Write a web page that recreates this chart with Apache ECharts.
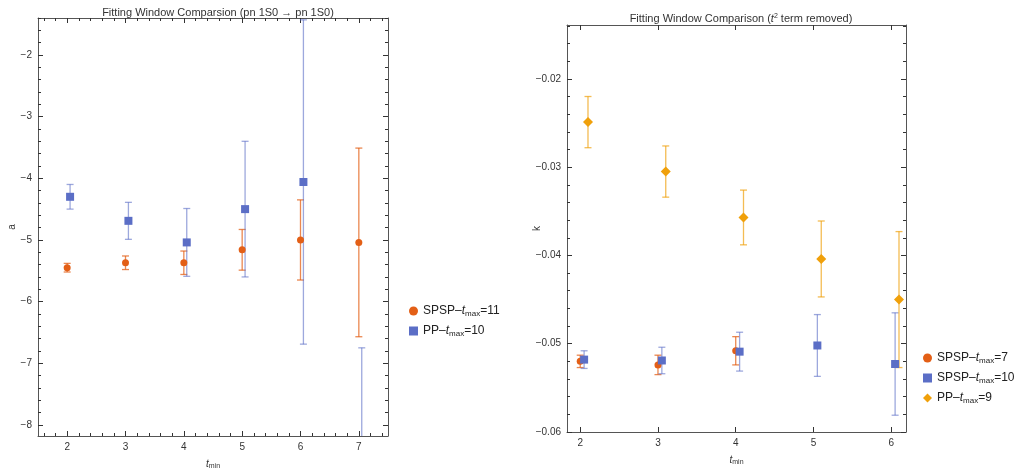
<!DOCTYPE html>
<html>
<head>
<meta charset="utf-8">
<script src="https://cdn.jsdelivr.net/npm/echarts@6/dist/echarts.min.js"></script>
<style>
  html, body { margin: 0; padding: 0; background: #fff; }
  #chart { width: 1024px; height: 473px; }
</style>
</head>
<body>
<div id="chart"></div>
<script>
// ---- left panel: a vs t_min ----
const leftTmin = [2, 3, 4, 5, 6, 7];
const leftSpsp11 = [-5.45, -5.37, -5.37, -5.16, -5.00, -5.04];
const leftSpsp11Err = [0.07, 0.11, 0.19, 0.33, 0.65, 1.53];
const leftPp10 = [-4.30, -4.69, -5.04, -4.50, -4.06, -9.60];
const leftPp10Err = [0.20, 0.30, 0.55, 1.10, 2.63, 2.85];
const leftXTicks = [2, 3, 4, 5, 6, 7];
const leftYTicks = [-8, -7, -6, -5, -4, -3, -2];

// ---- right panel: k vs t_min ----
const rightTmin7 = [2, 3, 4];
const rightSpsp7 = [-0.0520, -0.0524, -0.0508];
const rightSpsp7Err = [0.0007, 0.0011, 0.0016];
const rightTmin = [2, 3, 4, 5, 6];
const rightSpsp10 = [-0.0518, -0.0519, -0.0509, -0.0502, -0.0523];
const rightSpsp10Err = [0.0010, 0.0015, 0.0022, 0.0035, 0.0058];
const rightPp9 = [-0.0249, -0.0305, -0.0357, -0.0404, -0.0450];
const rightPp9Err = [0.0029, 0.0029, 0.0031, 0.0043, 0.0077];
const rightXTicks = [2, 3, 4, 5, 6];
const rightYTicks = [-0.06, -0.05, -0.04, -0.03, -0.02];

const C_ORANGE = '#e35f16';
const C_BLUE = '#5b6ec6';
const C_AMBER = '#f0a00a';
const FRAME = '#555';
const FONT = 'Liberation Sans';

function minorTicks(lo, hi, step) {
  const out = [];
  const n = Math.round((hi - lo) / step);
  for (let i = 0; i <= n; i++) out.push(+(lo + i * step).toFixed(6));
  return out;
}

function fmtMinus(v, digits) {
  const s = Math.abs(v).toFixed(digits);
  return v < 0 ? '\u2212' + s : s;
}

// Four axes per direction: labelled major, minor, opposite major, opposite minor.
function axisSet(dim, grid, min, max, majors, minors, digits, name, nameGap) {
  const posA = dim === 'x' ? 'bottom' : 'left';
  const posB = dim === 'x' ? 'top' : 'right';
  const base = { type: 'value', gridIndex: grid, min: min, max: max, splitLine: { show: false } };
  const line = { show: true, lineStyle: { color: FRAME, width: 1 } };
  const mk = (pos, vals, len, labels, showLine) => Object.assign({}, base, {
    position: pos,
    axisLine: showLine ? line : { show: false },
    axisTick: { show: true, inside: true, length: len, customValues: vals, lineStyle: { color: '#333', width: 1 } },
    axisLabel: labels ? {
      show: true, customValues: vals, color: '#333', fontFamily: FONT, fontSize: 10, margin: 6,
      formatter: v => fmtMinus(v, digits)
    } : { show: false }
  });
  const a = mk(posA, majors, 5, true, true);
  if (name) {
    a.name = name;
    a.nameLocation = 'middle';
    a.nameGap = nameGap;
    a.nameMoveOverlap = false;
    a.nameTextStyle = {
      color: '#333', fontFamily: FONT, fontSize: 10,
      rich: {
        i: { fontStyle: 'italic', fontSize: 10, fontFamily: FONT, color: '#333' },
        s: { fontSize: 7, fontFamily: FONT, color: '#333', padding: [5, 0, 0, 0] }
      }
    };
    if (dim === 'y') a.nameRotate = 90;
  }
  return [
    a,
    mk(posA, minors, 3, false, false),
    mk(posB, majors, 5, false, true),
    mk(posB, minors, 3, false, false)
  ];
}

function errorBars(name, xs, ys, errs, dx, color, grid, opacity) {
  const data = xs.map((x, i) => [x + dx, ys[i] - errs[i], ys[i] + errs[i]]);
  return {
    type: 'custom',
    name: name + ' err',
    xAxisIndex: grid * 4,
    yAxisIndex: grid * 4,
    clip: true,
    silent: true,
    z: 2,
    data: data,
    encode: { x: 0, y: [1, 2] },
    renderItem: function (params, api) {
      const lo = api.coord([api.value(0), api.value(1)]);
      const hi = api.coord([api.value(0), api.value(2)]);
      const w = 3.5;
      const style = { stroke: color, lineWidth: 1.3, opacity: opacity };
      return {
        type: 'group',
        children: [
          { type: 'line', shape: { x1: lo[0], y1: lo[1], x2: hi[0], y2: hi[1] }, style: style },
          { type: 'line', shape: { x1: lo[0] - w, y1: lo[1], x2: lo[0] + w, y2: lo[1] }, style: style },
          { type: 'line', shape: { x1: hi[0] - w, y1: hi[1], x2: hi[0] + w, y2: hi[1] }, style: style }
        ]
      };
    }
  };
}

function points(name, xs, ys, dx, color, grid, symbol, size) {
  return {
    type: 'scatter',
    name: name,
    xAxisIndex: grid * 4,
    yAxisIndex: grid * 4,
    clip: true,
    z: 3,
    symbol: symbol,
    symbolSize: size,
    itemStyle: { color: color, opacity: 1 },
    data: xs.map((x, i) => [x + dx, ys[i]])
  };
}

const richLegend = {
  n: { fontSize: 12, fontFamily: FONT, color: '#222', lineHeight: 16 },
  i: { fontSize: 12, fontFamily: FONT, color: '#222', fontStyle: 'italic', lineHeight: 16 },
  s: { fontSize: 8, fontFamily: FONT, color: '#222', lineHeight: 16, padding: [6, 0, 0, 0] }
};
function legendLabel(name) {
  const m = name.match(/^(\w+)-tmax=(\d+)$/);
  return '{n|' + m[1] + '\u2013}{i|t}{s|max}{n|=' + m[2] + '}';
}

const NAME_L1 = 'SPSP-tmax=11', NAME_L2 = 'PP-tmax=10';
const NAME_R1 = 'SPSP-tmax=7', NAME_R2 = 'SPSP-tmax=10', NAME_R3 = 'PP-tmax=9';

const xAxes = [].concat(
  axisSet('x', 0, 1.5, 7.5, leftXTicks, minorTicks(1.6, 7.4, 0.2), 0, '{i|t}{s|min}', 22),
  axisSet('x', 1, 1.83, 6.19, rightXTicks, minorTicks(1.84, 6.14, 0.1).filter(v => Math.abs(Math.round(v * 5) - v * 5) < 1e-6), 0, '{i|t}{s|min}', 22)
);
const yAxes = [].concat(
  axisSet('y', 0, -8.18, -1.40, leftYTicks, minorTicks(-8.0, -1.4, 0.2), 0, 'a', 21),
  axisSet('y', 1, -0.06, -0.0139, rightYTicks, minorTicks(-0.060, -0.014, 0.002), 2, 'k', 25)
);

const chart = echarts.init(document.getElementById('chart'), null, { renderer: 'canvas' });
chart.setOption({
  animation: false,
  backgroundColor: '#fff',
  title: [
    {
      text: 'Fitting Window Comparsion (pn 1S0 \u2192 pn 1S0)',
      left: 213, top: 2, textAlign: 'center',
      textStyle: { fontFamily: FONT, fontSize: 11, fontWeight: 'normal', color: '#333' }
    },
    {
      text: 'Fitting Window Comparison ({i|t}{sup|2} term removed)',
      left: 736, top: 8, textAlign: 'center',
      textStyle: {
        fontFamily: FONT, fontSize: 11, fontWeight: 'normal', color: '#333',
        rich: {
          i: { fontStyle: 'italic', fontSize: 11, fontFamily: FONT, color: '#333' },
          sup: { fontSize: 7, fontFamily: FONT, color: '#333', padding: [0, 0, 5, 0] }
        }
      }
    }
  ],
  grid: [
    { left: 38, top: 18, width: 350, height: 418, outerBoundsMode: 'none', containLabel: false },
    { left: 567, top: 25, width: 339, height: 407, outerBoundsMode: 'none', containLabel: false }
  ],
  legend: [
    {
      data: [NAME_L1, NAME_L2],
      orient: 'vertical', left: 404, top: 299, itemGap: 6,
      itemWidth: 9, itemHeight: 9,
      formatter: legendLabel,
      textStyle: { rich: richLegend }
    },
    {
      data: [NAME_R1, NAME_R2, NAME_R3],
      orient: 'vertical', left: 918, top: 346, itemGap: 6,
      itemWidth: 9, itemHeight: 9,
      formatter: legendLabel,
      textStyle: { rich: richLegend }
    }
  ],
  xAxis: xAxes,
  yAxis: yAxes,
  series: [
    errorBars(NAME_L1, leftTmin, leftSpsp11, leftSpsp11Err, 0, C_ORANGE, 0, 0.75),
    errorBars(NAME_L2, leftTmin, leftPp10, leftPp10Err, 0.05, C_BLUE, 0, 0.6),
    points(NAME_L1, leftTmin, leftSpsp11, 0, C_ORANGE, 0, 'circle', 7),
    points(NAME_L2, leftTmin, leftPp10, 0.05, C_BLUE, 0, 'rect', 8),

    errorBars(NAME_R1, rightTmin7, rightSpsp7, rightSpsp7Err, 0, C_ORANGE, 1, 0.75),
    errorBars(NAME_R2, rightTmin, rightSpsp10, rightSpsp10Err, 0.05, C_BLUE, 1, 0.6),
    errorBars(NAME_R3, rightTmin, rightPp9, rightPp9Err, 0.1, C_AMBER, 1, 0.7),
    points(NAME_R1, rightTmin7, rightSpsp7, 0, C_ORANGE, 1, 'circle', 7),
    points(NAME_R2, rightTmin, rightSpsp10, 0.05, C_BLUE, 1, 'rect', 8),
    points(NAME_R3, rightTmin, rightPp9, 0.1, C_AMBER, 1, 'diamond', 10)
  ]
});
</script>
</body>
</html>
